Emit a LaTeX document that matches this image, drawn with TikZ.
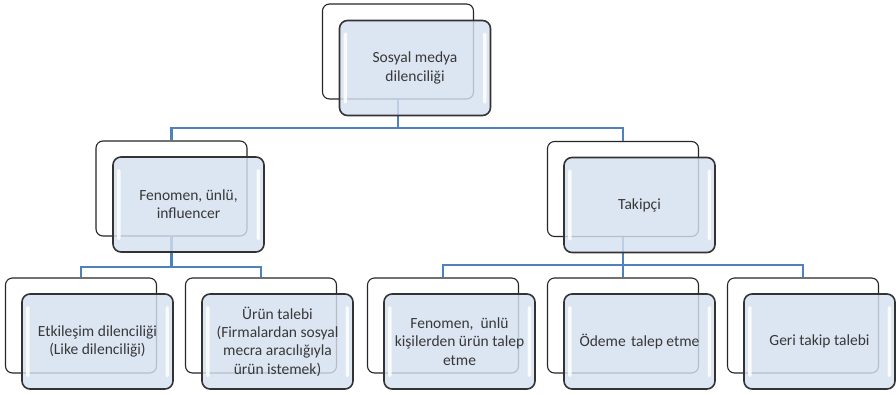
\documentclass[tikz,border=0pt]{standalone}
\usepackage{fontspec}
\setmainfont{Carlito}
\definecolor{linkblue}{RGB}{79,129,189}
\definecolor{frontfill}{RGB}{213,224,240}
\begin{document}
\begin{tikzpicture}[x=1pt,y=-1pt,
  backbox/.style={draw=black!85, line width=1.1pt, fill=white, rounded corners=7pt,
    minimum width=151pt, minimum height=95pt, inner sep=0pt},
  frontbox/.style={draw=black!80, line width=1.6pt, fill=frontfill, fill opacity=0.82,
    text opacity=1, rounded corners=8pt, minimum width=151pt, minimum height=95pt,
    inner sep=2pt, align=center, text=black!78,
    font=\fontsize{15.5}{18.3}\selectfont,
    path picture={
      \fill[white,opacity=0.85,rounded corners=1.5pt]
        ([shift={(4pt,-12pt)}]path picture bounding box.north west) rectangle
        ([shift={(7.5pt,12pt)}]path picture bounding box.south west);
      \fill[white,opacity=0.85,rounded corners=1.5pt]
        ([shift={(-7.5pt,-12pt)}]path picture bounding box.north east) rectangle
        ([shift={(-4pt,12pt)}]path picture bounding box.south east);
    }},
  link/.style={draw=linkblue, line width=2.2pt}
]
\useasboundingbox (0,0) rectangle (896,394);

% back (outline) boxes
\node[backbox] (topB) at (398,51.5) {};
\node[backbox] (mlB) at (171.5,188.5) {};
\node[backbox] (mrB) at (623,189) {};
\node[backbox] (b1B) at (81,325.5) {};
\node[backbox] (b2B) at (261,325.5) {};
\node[backbox] (b3B) at (443,325.5) {};
\node[backbox] (b4B) at (623,325.5) {};
\node[backbox] (b5B) at (803,325.5) {};

% bus levels
\coordinate (busA) at (0,128);
\coordinate (busB) at (0,267);
\coordinate (busC) at (0,265);

% connectors
\draw[link] (topB.south) -- (topB.south |- busA) -| (mlB.north);
\draw[link] (topB.south |- busA) -| (mrB.north);
\draw[link] (mlB.south) -- (mlB.south |- busB) -| (b1B.north);
\draw[link] (mlB.south |- busB) -| (b2B.north);
\draw[link] (mrB.south) -- (mrB.south |- busC) -| (b3B.north);
\draw[link] (mrB.south |- busC) -| (b5B.north);
\draw[link] (mrB.south |- busC) -- (b4B.north);

% front (filled) boxes
\node[frontbox] (topF) at (415,68) {Sosyal medya\\dilenciliği};
\node[frontbox] (mlF) at (188.5,204.5) {Fenomen, ünlü,\\influencer};
\node[frontbox] (mrF) at (639.5,205) {Takipçi};
\node[frontbox] (b1F) at (97.5,341.5) {Etkileşim dilenciliği\\(Like dilenciliği)};
\node[frontbox] (b2F) at (277.5,341.5) {Ürün talebi\\(Firmalardan sosyal\\mecra aracılığıyla\\ürün istemek)};
\node[frontbox] (b3F) at (459.5,341.5) {Fenomen,\ \ ünlü\\kişilerden ürün talep\\etme};
\node[frontbox] (b4F) at (639.5,341.5) {Ödeme\hspace{0.12em} talep etme};
\node[frontbox] (b5F) at (819.5,341.5) {Geri takip talebi};
\end{tikzpicture}
\end{document}
